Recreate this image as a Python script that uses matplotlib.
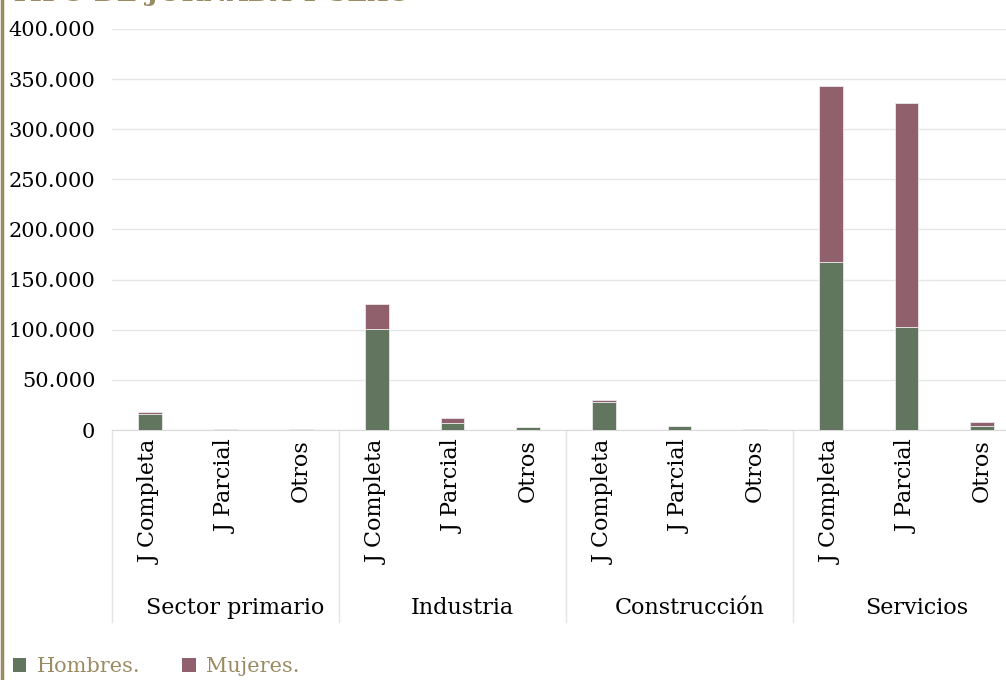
import matplotlib
matplotlib.use("Agg")
import matplotlib.pyplot as plt
from matplotlib.patches import Patch
from matplotlib.ticker import FuncFormatter
import matplotlib.transforms as mtransforms

sectors = ["Sector primario", "Industria", "Construcción", "Servicios"]
jornadas = ["J Completa", "J Parcial", "Otros"]
hombres = [15700, 600, 500, 100700, 7300, 2600, 28200, 3500, 800, 167300, 103000, 3700]
mujeres = [2300, 500, 500, 25000, 4700, 400, 2000, 500, 300, 175700, 223500, 4300]
yticks = [0, 50000, 100000, 150000, 200000, 250000, 300000, 350000, 400000]

GREEN = "#62755e"
PINK = "#90606c"
TAN = "#9b8b63"
FONT = "DejaVu Serif"

plt.rcParams["font.family"] = FONT

fig = plt.figure(figsize=(10.06, 6.8), dpi=100)
W, H = 1006, 680
# plot area extends past the right edge (the reference is cropped there)
ax = fig.add_axes([112 / W, (H - 430) / H, 908 / W, 401 / H])

labels = [j for _ in sectors for j in jornadas]
x = list(range(len(labels)))
ax.bar(x, hombres, width=0.31, color=GREEN, edgecolor="#e8e8e8", linewidth=0.6, zorder=3)
ax.bar(x, mujeres, bottom=hombres, width=0.31, color=PINK, edgecolor="#e8e8e8", linewidth=0.6, zorder=3)

ax.set_xlim(-0.5, len(labels) - 0.5)
ax.set_ylim(0, 400000)
ax.set_yticks(yticks)
ax.yaxis.set_major_formatter(FuncFormatter(lambda v, p: f"{int(v):,}".replace(",", ".")))
ax.grid(axis="y", color="#e6e6e6", linewidth=1, zorder=0)
for s in ["top", "right", "left"]:
    ax.spines[s].set_visible(False)
ax.spines["bottom"].set_color("#d9d9d9")
ax.tick_params(axis="y", length=0, labelsize=15, pad=12)
ax.set_xticks(x)
ax.set_xticklabels(labels, rotation=90, fontsize=16)
ax.tick_params(axis="x", length=0, pad=7)

trans = mtransforms.blended_transform_factory(ax.transData, ax.transAxes)
for i in range(len(sectors) + 1):
    ax.plot([i * 3 - 0.5, i * 3 - 0.5], [0, -192 / 401], color="#e3e3e3", linewidth=1,
            transform=trans, clip_on=False)
# group labels sit slightly right of the group centre, as in the reference
for i, name in enumerate(sectors):
    ax.text(i * 3 + 1.13, -178 / 401, name, transform=trans, ha="center", va="center", fontsize=16)

# title, mostly cut off at the top edge (as in the reference)
fig.text(10 / W, 1 - 0.5 / H, "TIPO DE JORNADA Y SEXO", color=TAN, fontsize=19,
         fontweight="bold", ha="left", va="baseline")

# left border line
fig.add_artist(plt.Line2D([1.5 / W, 1.5 / W], [0, 1], color=TAN, linewidth=2.5,
                          transform=fig.transFigure))

handles = [Patch(facecolor=GREEN, label="Hombres."), Patch(facecolor=PINK, label="Mujeres.")]
leg = fig.legend(handles=handles, loc="lower left", bbox_to_anchor=(-6 / W, -15 / H), ncol=2,
                 frameon=False, fontsize=15, handlelength=0.65, handleheight=0.65,
                 handletextpad=0.5, columnspacing=2.0)
for t in leg.get_texts():
    t.set_color(TAN)

fig.savefig("out.png", dpi=100)
plt.close(fig)
